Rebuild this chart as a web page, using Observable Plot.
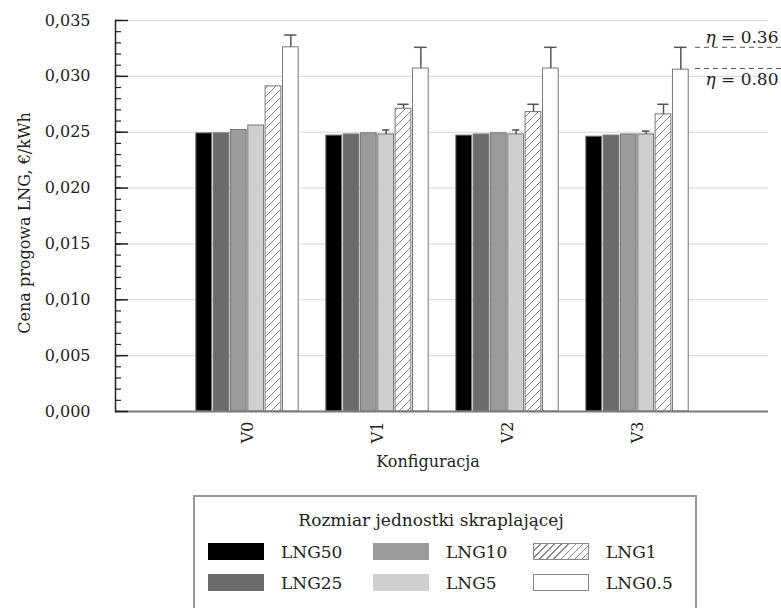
<!DOCTYPE html>
<html>
<head>
<meta charset="utf-8">
<script src="https://cdn.jsdelivr.net/npm/d3@7"></script>
<script src="https://cdn.jsdelivr.net/npm/@observablehq/plot@0.6"></script>
<style>
  body { margin: 0; background: #fff; font-family: "DejaVu Serif", serif; width: 781px; height: 608px; position: relative; overflow: hidden; }
  #chart { position: absolute; left: 0; top: 0; }
  #chart svg { display: block; }
  #legend { position: absolute; left: 193px; top: 495px; width: 504px; height: 130px; border: 2px solid #9a9a9a; box-sizing: border-box; color: #222; }
  #legend .ltitle { font-size: 17px; line-height: 20px; padding-top: 13px; text-align: center; padding-right: 28px; }
  #legend .lgrid { display: grid; grid-auto-flow: column; grid-template-rows: 31px 31px; grid-template-columns: 165px 160px 150px; padding-left: 13px; margin-top: 6px; }
  #legend .item { display: flex; align-items: center; font-size: 17px; }
  #legend .sw { width: 56px; height: 17px; box-sizing: border-box; margin-right: 17px; }
</style>
</head>
<body>
<div id="chart"></div>
<div id="legend"></div>
<script>
// ---- data ----
const groups = ["V0", "V1", "V2", "V3"];
const seriesNames = ["LNG50", "LNG25", "LNG10", "LNG5", "LNG1", "LNG0.5"];
const lng50 = [0.0249, 0.0247, 0.0247, 0.0246];
const lng25 = [0.0249, 0.0248, 0.0248, 0.0247];
const lng10 = [0.0252, 0.0249, 0.0249, 0.0248];
const lng5  = [0.0256, 0.0248, 0.0248, 0.0248];
const lng1  = [0.0291, 0.0271, 0.0268, 0.0266];
const lng05 = [0.0326, 0.0307, 0.0307, 0.0306];
const err50 = [null, null, null, null];
const err25 = [null, null, null, null];
const err10 = [null, null, null, null];
const err5  = [null, 0.0252, 0.0252, 0.0251];
const err1  = [null, 0.0275, 0.0275, 0.0275];
const err05 = [0.0337, 0.0326, 0.0326, 0.0326];
const etaLabels = ["η = 0.36", "η = 0.80"];
const etaValues = [0.0326, 0.0307];
const yTicks = [0, 0.005, 0.010, 0.015, 0.020, 0.025, 0.030, 0.035];
const yMinorTicks = d3.range(0, 36).map(i => i / 1000);
const xLabel = "Konfiguracja";
const yLabel = "Cena progowa LNG, €/kWh";
const legendTitle = "Rozmiar jednostki skraplającej";

const seriesValues = [lng50, lng25, lng10, lng5, lng1, lng05];
const seriesErrors = [err50, err25, err10, err5, err1, err05];

// ---- styles ----
const fills = ["#000000", "#6b6b6b", "#9b9b9b", "#cfcfcf", "url(#hatch)", "#ffffff"];
const capWidths = [0, 0, 0, 8, 12, 13];

const rows = [];
seriesNames.forEach((s, i) => groups.forEach((g, j) => {
  rows.push({group: g, series: s, value: seriesValues[i][j], err: seriesErrors[i][j]});
}));

const W = 781, H = 488, ML = 115, MR = 13, MT = 20, MB = 77;
const step = (W - ML - MR) / 5;
const barW = 104 / 6;
const fmt = d => d3.format(".3f")(d).replace(".", ",");

const marks = [
  Plot.gridY(yTicks, {stroke: "#d6d6d6", strokeOpacity: 1, strokeWidth: 1})
];
seriesNames.forEach((s, i) => {
  const d = rows.filter(r => r.series === s);
  const off = (i - 2.5) * barW;
  const inset = (step - barW) / 2 + 0.5;
  marks.push(Plot.barY(d, {x: "group", y: "value", fill: fills[i], stroke: "#777", strokeWidth: 1, dx: off, insetLeft: inset, insetRight: inset}));
  const e = d.filter(r => r.err != null);
  if (e.length) {
    const ci = (step - capWidths[i]) / 2;
    marks.push(Plot.ruleX(e, {x: "group", y1: "value", y2: "err", dx: off, stroke: "#555", strokeWidth: 1.5}));
    marks.push(Plot.tickY(e, {x: "group", y: "err", dx: off, insetLeft: ci, insetRight: ci, stroke: "#555", strokeWidth: 1.5}));
  }
});
marks.push(
  Plot.ruleY([0], {stroke: "#7a7a7a", strokeWidth: 2}),
  Plot.frame({anchor: "left", stroke: "#222", strokeWidth: 1.5}),
  Plot.axisY({ticks: yTicks, tickSize: 0, tickPadding: 25, tickFormat: fmt, fontSize: 16, label: null, color: "#222"}),
  Plot.axisY({ticks: yTicks, text: null, tickSize: -13, strokeWidth: 1.5, label: null}),
  Plot.axisY({ticks: yMinorTicks, text: null, tickSize: -6, strokeWidth: 1.2, label: null}),
  Plot.axisX({tickRotate: -90, tickSize: 0, tickPadding: 10, fontSize: 16, label: null}),
  Plot.ruleY(etaValues, {stroke: "#555", strokeWidth: 1, strokeDasharray: "5,4", insetLeft: 695 - ML, insetRight: -MR}),
  Plot.text([etaLabels[0]], {y: etaValues[0], text: d => d, frameAnchor: "right", textAnchor: "end", lineAnchor: "bottom", dx: 10, dy: -4, fontSize: 17}),
  Plot.text([etaLabels[1]], {y: etaValues[1], text: d => d, frameAnchor: "right", textAnchor: "end", lineAnchor: "top", dx: 10, dy: 4, fontSize: 17}),
  Plot.text([yLabel], {text: d => d, frameAnchor: "left", textAnchor: "middle", rotate: -90, dx: -91, dy: 7, fontSize: 16}),
  Plot.text([xLabel], {text: d => d, frameAnchor: "bottom", textAnchor: "middle", dy: 55, dx: -14, fontSize: 16})
);

const svgNode = Plot.plot({
  width: W, height: H,
  marginLeft: ML, marginRight: MR, marginTop: MT, marginBottom: MB,
  style: {fontFamily: "DejaVu Serif, serif", fontSize: "16px", color: "#222", background: "#fff"},
  x: {domain: groups, paddingInner: 0, paddingOuter: 0.5},
  y: {domain: [0, 0.035]},
  marks
});
document.getElementById("chart").appendChild(svgNode);

const svg = d3.select(svgNode);
svg.insert("defs", ":first-child").html(
  '<pattern id="hatch" patternUnits="userSpaceOnUse" width="8" height="8">' +
  '<rect width="8" height="8" fill="#fff"/>' +
  '<path d="M-2,2 L2,-2 M0,8 L8,0 M6,10 L10,6" stroke="#8a8a8a" stroke-width="1"/></pattern>');
svg.selectAll("text").each(function() {
  const t = this.textContent;
  if (t.startsWith("η")) {
    this.textContent = "";
    d3.select(this).append("tspan").attr("font-style", "italic").text("η");
    d3.select(this).append("tspan").text(t.slice(1));
  }
});

// ---- legend ----
const legendSwatch = [
  "background:#000",
  "background:#6b6b6b",
  "background:#9b9b9b",
  "background:#cfcfcf",
  "border:1px solid #8a8a8a;background:repeating-linear-gradient(135deg,#fff 0 4px,#8a8a8a 4px 5px)",
  "border:1px solid #8a8a8a;background:#fff"
];
const legend = d3.select("#legend");
legend.append("div").attr("class", "ltitle").text(legendTitle);
const grid = legend.append("div").attr("class", "lgrid");
seriesNames.forEach((s, i) => {
  const it = grid.append("div").attr("class", "item");
  it.append("div").attr("class", "sw").attr("style", legendSwatch[i]);
  it.append("span").text(s);
});
</script>
</body>
</html>
